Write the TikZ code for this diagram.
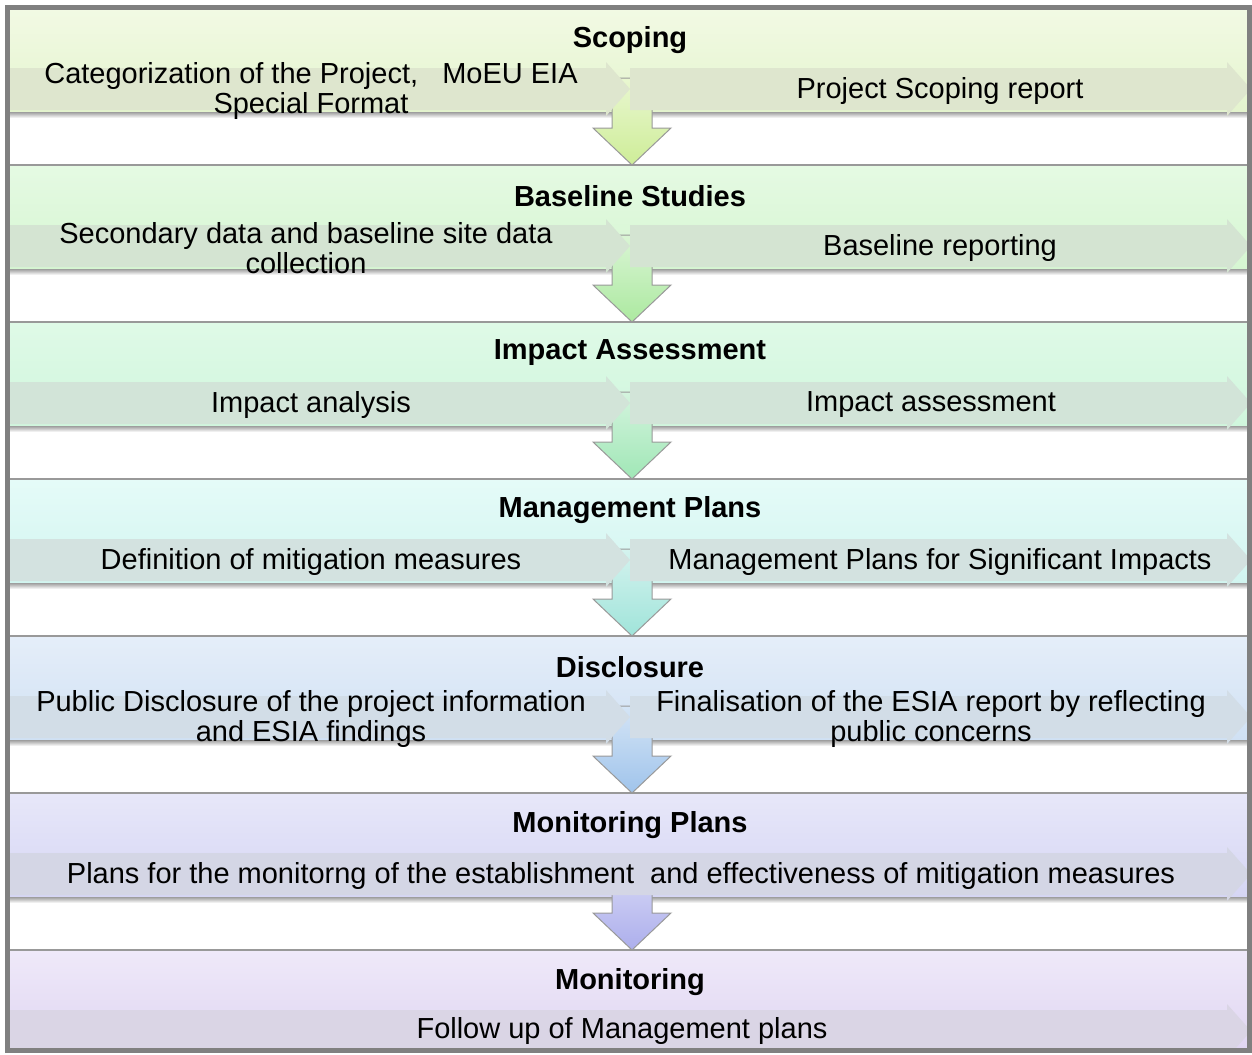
\documentclass[tikz,border=0pt]{standalone}
\usepackage{fontspec}
\setmainfont{Liberation Sans}
\usepackage{tikz}

\definecolor{scopeA}{RGB}{242,250,228}
\definecolor{scopeB}{RGB}{228,244,206}
\definecolor{scopeC}{RGB}{222,230,206}
\definecolor{scopeR}{RGB}{206,237,152}
\definecolor{baseA}{RGB}{229,250,227}
\definecolor{baseB}{RGB}{214,246,210}
\definecolor{baseC}{RGB}{212,228,210}
\definecolor{baseR}{RGB}{172,233,160}
\definecolor{impA}{RGB}{223,250,231}
\definecolor{impB}{RGB}{208,246,221}
\definecolor{impC}{RGB}{210,228,216}
\definecolor{impR}{RGB}{160,231,182}
\definecolor{mgmtA}{RGB}{229,251,248}
\definecolor{mgmtB}{RGB}{210,245,240}
\definecolor{mgmtC}{RGB}{211,226,224}
\definecolor{mgmtR}{RGB}{160,228,218}
\definecolor{discA}{RGB}{229,238,249}
\definecolor{discB}{RGB}{208,225,244}
\definecolor{discC}{RGB}{210,221,231}
\definecolor{discR}{RGB}{160,196,235}
\definecolor{mplA}{RGB}{231,231,249}
\definecolor{mplB}{RGB}{214,214,244}
\definecolor{mplC}{RGB}{212,214,229}
\definecolor{mplR}{RGB}{172,174,236}
\definecolor{monA}{RGB}{239,233,249}
\definecolor{monB}{RGB}{224,214,242}
\definecolor{monC}{RGB}{218,213,229}

\begin{document}
\begin{tikzpicture}[x=0.02cm,y=-0.02cm]
\tikzstyle{every node}+=[inner sep=0pt, font=\fontsize{16.5pt}{17pt}\selectfont]
\tikzstyle{title}=[font=\fontsize{16.5pt}{17pt}\selectfont\bfseries]
\tikzstyle{divider}=[black!40, line width=0.03cm]
\tikzstyle{shadow}=[top color=black!38, bottom color=white]
\tikzstyle{downarrow}=[draw=black!40, line width=0.02cm]
\useasboundingbox (0,0) rectangle (1252,1055);
\fill [white] (0,0) rectangle (1252,1055);
\begin{scope}
\clip (10,10) rectangle (1247,1048);
% bands
\shade [top color=scopeA, bottom color=scopeB] (10,8) rectangle (1247,112);
\shade [top color=baseA, bottom color=baseB] (10,165) rectangle (1247,269);
\shade [top color=impA, bottom color=impB] (10,322) rectangle (1247,426);
\shade [top color=mgmtA, bottom color=mgmtB] (10,479) rectangle (1247,583);
\shade [top color=discA, bottom color=discB] (10,636) rectangle (1247,740);
\shade [top color=mplA, bottom color=mplB] (10,793) rectangle (1247,897);
\shade [top color=monA, bottom color=monB] (10,950) rectangle (1247,1048);
\shade [shadow] (10,112) rectangle (1247,118);
\shade [shadow] (10,269) rectangle (1247,275);
\shade [shadow] (10,426) rectangle (1247,432);
\shade [shadow] (10,583) rectangle (1247,589);
\shade [shadow] (10,740) rectangle (1247,746);
\shade [shadow] (10,897) rectangle (1247,903);
\draw [divider] (10,165) -- (1247,165);
\draw [divider] (10,322) -- (1247,322);
\draw [divider] (10,479) -- (1247,479);
\draw [divider] (10,636) -- (1247,636);
\draw [divider] (10,793) -- (1247,793);
\draw [divider] (10,950) -- (1247,950);
% down arrows
\shade [downarrow, top color=scopeR!45!white, bottom color=scopeR] (612,78) -- (652,78) -- (652,128) -- (671,128) -- (632,165) -- (593,128) -- (612,128) -- cycle;
\shade [downarrow, top color=baseR!45!white, bottom color=baseR] (612,235) -- (652,235) -- (652,285) -- (671,285) -- (632,322) -- (593,285) -- (612,285) -- cycle;
\shade [downarrow, top color=impR!45!white, bottom color=impR] (612,392) -- (652,392) -- (652,442) -- (671,442) -- (632,479) -- (593,442) -- (612,442) -- cycle;
\shade [downarrow, top color=mgmtR!45!white, bottom color=mgmtR] (612,549) -- (652,549) -- (652,599) -- (671,599) -- (632,636) -- (593,599) -- (612,599) -- cycle;
\shade [downarrow, top color=discR!45!white, bottom color=discR] (612,706) -- (652,706) -- (652,756) -- (671,756) -- (632,793) -- (593,756) -- (612,756) -- cycle;
\shade [downarrow, top color=mplR!45!white, bottom color=mplR] (612,863) -- (652,863) -- (652,913) -- (671,913) -- (632,950) -- (593,913) -- (612,913) -- cycle;
% chevrons
\fill [scopeC] (10,68) -- (606,68) -- (606,62) -- (630,89) -- (606,116) -- (606,110) -- (10,110) -- cycle;
\fill [scopeC] (630,68) -- (1227,68) -- (1227,62) -- (1251,89) -- (1227,116) -- (1227,110) -- (630,110) -- cycle;
\fill [baseC] (10,225) -- (606,225) -- (606,219) -- (630,246) -- (606,273) -- (606,267) -- (10,267) -- cycle;
\fill [baseC] (630,225) -- (1227,225) -- (1227,219) -- (1251,246) -- (1227,273) -- (1227,267) -- (630,267) -- cycle;
\fill [impC] (10,382) -- (606,382) -- (606,376) -- (630,403) -- (606,430) -- (606,424) -- (10,424) -- cycle;
\fill [impC] (630,382) -- (1227,382) -- (1227,376) -- (1251,403) -- (1227,430) -- (1227,424) -- (630,424) -- cycle;
\fill [mgmtC] (10,539) -- (606,539) -- (606,533) -- (630,560) -- (606,587) -- (606,581) -- (10,581) -- cycle;
\fill [mgmtC] (630,539) -- (1227,539) -- (1227,533) -- (1251,560) -- (1227,587) -- (1227,581) -- (630,581) -- cycle;
\fill [discC] (10,696) -- (606,696) -- (606,690) -- (630,717) -- (606,744) -- (606,738) -- (10,738) -- cycle;
\fill [discC] (630,696) -- (1227,696) -- (1227,690) -- (1251,717) -- (1227,744) -- (1227,738) -- (630,738) -- cycle;
\fill [mplC] (10,853) -- (1227,853) -- (1227,847) -- (1251,874) -- (1227,901) -- (1227,895) -- (10,895) -- cycle;
\fill [monC] (10,1010) -- (1227,1010) -- (1227,1004) -- (1251,1031) -- (1227,1058) -- (1227,1052) -- (10,1052) -- cycle;
\end{scope}
% texts
\node [title] (scoping) at (630,40) {Scoping};
\node [align=center] (scopingL) at (311,91) {Categorization of the Project,\ \ \ MoEU EIA\\Special Format};
\node (scopingR) at (940,91) {Project Scoping report};
\node [title] (baseline) at (630,196) {Baseline Studies};
\node [align=center] (baselineL) at (306,248) {Secondary data and baseline site data\\collection};
\node (baselineR) at (940,248) {Baseline reporting};
\node [title] (impact) at (630,353) {Impact Assessment};
\node (impactL) at (311,405) {Impact analysis};
\node (impactR) at (931,405) {Impact assessment};
\node [title] (mgmt) at (630,510) {Management Plans};
\node (mgmtL) at (311,562) {Definition of mitigation measures};
\node (mgmtR) at (940,562) {Management Plans for Significant Impacts};
\node [title] (disc) at (630,667) {Disclosure};
\node [align=center] (discL) at (311,719) {Public Disclosure of the project information\\and ESIA findings};
\node [align=center] (discR) at (931,719) {Finalisation of the ESIA report by reflecting\\public concerns};
\node [title] (monplans) at (630,825) {Monitoring Plans};
\node (monplansL) at (621,876) {Plans for the monitorng of the establishment\ \ and effectiveness of mitigation measures};
\node [title] (mon) at (630,982) {Monitoring};
\node (monL) at (622,1031) {Follow up of Management plans};
% frame
\draw [black!50, line width=0.1cm] (7.5,7.5) rectangle (1249.5,1050.5);
\end{tikzpicture}
\end{document}
